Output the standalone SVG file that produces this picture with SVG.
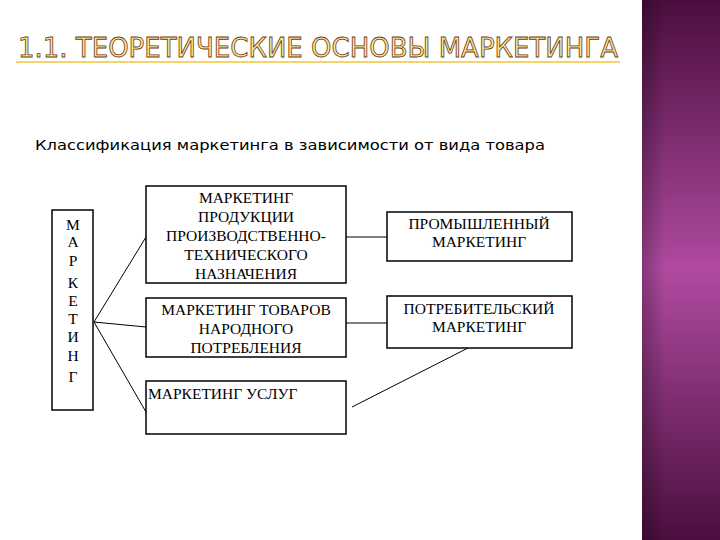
<svg xmlns="http://www.w3.org/2000/svg" width="720" height="540" viewBox="0 0 720 540">
<defs>
<linearGradient id="pg" x1="0" y1="0" x2="0" y2="1">
<stop offset="0" stop-color="#4a0e3e"/>
<stop offset="0.5" stop-color="#b04aa0"/>
<stop offset="1" stop-color="#4a0e3e"/>
</linearGradient>
<linearGradient id="ph" x1="0" y1="0" x2="1" y2="0">
<stop offset="0" stop-color="#000" stop-opacity="0.25"/>
<stop offset="0.3" stop-color="#000" stop-opacity="0"/>
</linearGradient>
</defs>
<style>
.b{fill:#fff;stroke:#000;stroke-width:1.5}
.t{font-family:"Liberation Serif",serif;font-size:15.5px;fill:#000;text-anchor:middle}
.c line{stroke:#000;stroke-width:1}
</style>
<rect width="720" height="540" fill="#fff"/>
<rect x="642" y="0" width="78" height="540" fill="url(#pg)"/>
<rect x="642" y="0" width="78" height="540" fill="url(#ph)"/>
<text x="18" y="57" font-family="'DejaVu Sans',sans-serif" font-size="26" fill="#ffe9a0" stroke="#6b3b10" stroke-width="0.8" textLength="600" lengthAdjust="spacing">1.1. ТЕОРЕТИЧЕСКИЕ ОСНОВЫ МАРКЕТИНГА</text>
<rect x="16" y="61" width="604" height="2" fill="#f3d36a"/>
<text x="35" y="150" font-family="'DejaVu Sans',sans-serif" font-size="14" fill="#000" textLength="510" lengthAdjust="spacingAndGlyphs">Классификация маркетинга в зависимости от вида товара</text>
<g class="c">
<line x1="94" y1="322" x2="146" y2="237"/>
<line x1="94" y1="322" x2="146" y2="327"/>
<line x1="94" y1="322" x2="146" y2="412"/>
<line x1="346" y1="237" x2="387" y2="237"/>
<line x1="346" y1="323" x2="387" y2="323"/>
<line x1="352" y1="407" x2="468" y2="348"/>
</g>
<g id="m"><rect class="b" x="52" y="210" width="41" height="200"/>
<g class="t"><text x="73" y="230">М</text><text x="73" y="247">А</text><text x="73" y="266">Р</text><text x="73" y="288">К</text><text x="73" y="306">Е</text><text x="73" y="324">Т</text><text x="73" y="342">И</text><text x="73" y="361">Н</text><text x="73" y="382">Г</text></g></g>
<g id="n1"><rect class="b" x="146" y="186" width="200" height="97"/>
<g class="t"><text x="246" y="203">МАРКЕТИНГ</text><text x="246" y="222">ПРОДУКЦИИ</text><text x="246" y="241">ПРОИЗВОДСТВЕННО-</text><text x="246" y="260">ТЕХНИЧЕСКОГО</text><text x="246" y="279">НАЗНАЧЕНИЯ</text></g></g>
<g id="n2"><rect class="b" x="146" y="298" width="200" height="59"/>
<g class="t"><text x="246" y="315">МАРКЕТИНГ ТОВАРОВ</text><text x="246" y="334">НАРОДНОГО</text><text x="246" y="353">ПОТРЕБЛЕНИЯ</text></g></g>
<g id="n3"><rect class="b" x="146" y="381" width="200" height="53"/>
<text class="t" x="148" y="399" style="text-anchor:start">МАРКЕТИНГ УСЛУГ</text></g>
<g id="n4"><rect class="b" x="387" y="212" width="185" height="49"/>
<g class="t"><text x="479" y="229">ПРОМЫШЛЕННЫЙ</text><text x="479" y="247">МАРКЕТИНГ</text></g></g>
<g id="n5"><rect class="b" x="387" y="296" width="185" height="52"/>
<g class="t"><text x="479" y="314">ПОТРЕБИТЕЛЬСКИЙ</text><text x="479" y="332">МАРКЕТИНГ</text></g></g>
</svg>
